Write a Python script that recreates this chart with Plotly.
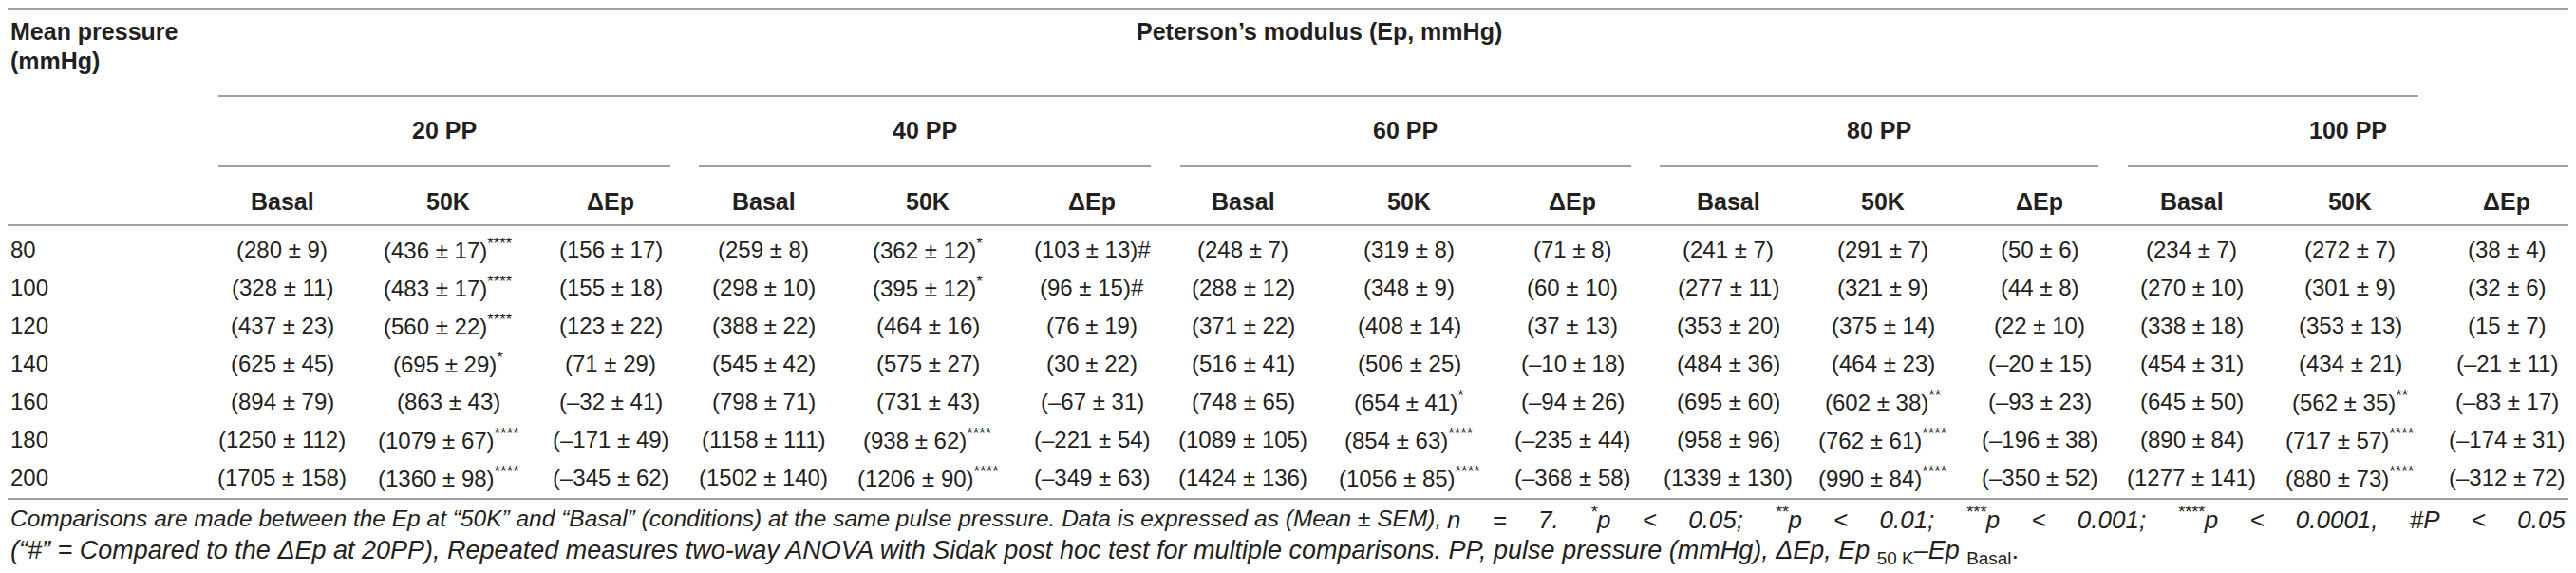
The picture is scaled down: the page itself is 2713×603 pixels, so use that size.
import plotly.graph_objects as go

# table data (Peterson's modulus, mean ± SEM)
mean_pressure = [80, 100, 120, 140, 160, 180, 200]
pp_groups = ["20 PP", "40 PP", "60 PP", "80 PP", "100 PP"]
sub_cols = ["Basal", "50K", "ΔEp"]

basal_mean = [
    [280, 328, 437, 625, 894, 1250, 1705],
    [259, 298, 388, 545, 798, 1158, 1502],
    [248, 288, 371, 516, 748, 1089, 1424],
    [241, 277, 353, 484, 695, 958, 1339],
    [234, 270, 338, 454, 645, 890, 1277],
]
basal_sem = [
    [9, 11, 23, 45, 79, 112, 158],
    [8, 10, 22, 42, 71, 111, 140],
    [7, 12, 22, 41, 65, 105, 136],
    [7, 11, 20, 36, 60, 96, 130],
    [7, 10, 18, 31, 50, 84, 141],
]
k50_mean = [
    [436, 483, 560, 695, 863, 1079, 1360],
    [362, 395, 464, 575, 731, 938, 1206],
    [319, 348, 408, 506, 654, 854, 1056],
    [291, 321, 375, 464, 602, 762, 990],
    [272, 301, 353, 434, 562, 717, 880],
]
k50_sem = [
    [17, 17, 22, 29, 43, 67, 98],
    [12, 12, 16, 27, 43, 62, 90],
    [8, 9, 14, 25, 41, 63, 85],
    [7, 9, 14, 23, 38, 61, 84],
    [7, 9, 13, 21, 35, 57, 73],
]
k50_sig = [
    ["****", "****", "****", "*", "", "****", "****"],
    ["*", "*", "", "", "", "****", "****"],
    ["", "", "", "", "*", "****", "****"],
    ["", "", "", "", "**", "****", "****"],
    ["", "", "", "", "**", "****", "****"],
]
delta_mean = [
    [156, 155, 123, 71, -32, -171, -345],
    [103, 96, 76, 30, -67, -221, -349],
    [71, 60, 37, -10, -94, -235, -368],
    [50, 44, 22, -20, -93, -196, -350],
    [38, 32, 15, -21, -83, -174, -312],
]
delta_sem = [
    [17, 18, 22, 29, 41, 49, 62],
    [13, 15, 19, 22, 31, 54, 63],
    [8, 10, 13, 18, 26, 44, 58],
    [6, 8, 10, 15, 23, 38, 52],
    [4, 6, 7, 11, 17, 31, 72],
]
delta_mark = [
    ["", "", "", "", "", "", ""],
    ["#", "#", "", "", "", "", ""],
    ["", "", "", "", "", "", ""],
    ["", "", "", "", "", "", ""],
    ["", "", "", "", "", "", ""],
]

footnote_1a = ("Comparisons are made between the Ep at “50K” and “Basal” (conditions) at the same pulse pressure. "
               "Data is expressed as (Mean ± SEM),")
footnote_1b = "\u2002\u2002 ".join(["n", "=", "7.", "<sup>*</sup>p", "&lt;", "0.05;", "<sup>**</sup>p", "&lt;", "0.01;",
                                    "<sup>***</sup>p", "&lt;", "0.001;", "<sup>****</sup>p", "&lt;", "0.0001,",
                                    "#P", "&lt;", "0.05"])
footnote_2 = ("(“#” = Compared to the ΔEp at 20PP), Repeated measures two-way ANOVA with Sidak post hoc test "
              "for multiple comparisons. PP, pulse pressure (mmHg), ΔEp, Ep </i><sub>50 K</sub><i>–Ep </i><sub>Basal</sub>.")

# layout, in page pixels (the page body has an 8px margin)
W, H, OFF = 2713, 603, 8
LEFT, RIGHT = 9, 2704
col_x = [297, 472, 643, 804, 977, 1150, 1309, 1484, 1656, 1820, 1983, 2148, 2308, 2475, 2640]
group_x = [468, 974, 1480, 1979, 2473]
group_lines = [(230, 706), (736, 1212), (1243, 1718), (1748, 2210), (2241, 2705)]
row_y0, row_step = 262, 40

FONT = "Liberation Sans, Arial, sans-serif"
TXT = "#231f20"
LINE = "#808080"


def fmt(v):
    return ("–" + str(-v)) if v < 0 else str(v)


def cell(m, s):
    return "(" + fmt(m) + " ± " + str(s) + ")"


fig = go.Figure()
ann = []
shapes = []


def text(x, y, t, bold=False, anchor="center", size=24, italic=False):
    if bold:
        t = "<b>" + t + "</b>"
    if italic:
        t = "<i>" + t + "</i>"
    ann.append(dict(x=x, y=y, text=t, showarrow=False, xanchor=anchor, yanchor="middle",
                    font=dict(family=FONT, size=size, color=TXT)))


def hline(x0, x1, y):
    shapes.append(dict(type="line", x0=x0, x1=x1, y0=y, y1=y, line=dict(color=LINE, width=1.3)))


# rules
hline(OFF, W - OFF, 9)
hline(230, 2547, 101)
for a, b in group_lines:
    hline(a, b, 175)
hline(OFF, W - OFF, 237)
hline(OFF, W - OFF, 525)

# headers
text(LEFT, 33, "Mean pressure", bold=True, anchor="left", size=25)
text(LEFT, 64, "(mmHg)", bold=True, anchor="left", size=25)
text(1389, 33, "Peterson’s modulus (Ep, mmHg)", bold=True, size=25)
for g, name in enumerate(pp_groups):
    text(group_x[g], 137, name, bold=True, size=25)
    for k, sc in enumerate(sub_cols):
        text(col_x[3 * g + k], 212, sc, bold=True, size=25)

# body
for i, mp in enumerate(mean_pressure):
    y = row_y0 + i * row_step
    text(LEFT, y, str(mp), anchor="left")
    for g in range(len(pp_groups)):
        text(col_x[3 * g], y, cell(basal_mean[g][i], basal_sem[g][i]))
        sig = k50_sig[g][i]
        t = cell(k50_mean[g][i], k50_sem[g][i]) + ("<sup>" + sig + "</sup>" if sig else "")
        text(col_x[3 * g + 1], y, t)
        text(col_x[3 * g + 2], y, cell(delta_mean[g][i], delta_sem[g][i]) + delta_mark[g][i])

# footnote
text(LEFT, 545, footnote_1a, anchor="left", italic=True, size=24.5)
text(RIGHT, 545, footnote_1b, anchor="right", italic=True, size=26)
text(LEFT, 581, footnote_2, anchor="left", italic=True, size=27)

fig.update_layout(
    width=W - 2 * OFF, height=H - 2 * OFF,
    margin=dict(l=0, r=0, t=0, b=0),
    paper_bgcolor="white", plot_bgcolor="white",
    xaxis=dict(range=[OFF, W - OFF], visible=False, fixedrange=True),
    yaxis=dict(range=[H - OFF, OFF], visible=False, fixedrange=True),
    annotations=ann, shapes=shapes,
    showlegend=False,
)
fig.write_html("out.html", config={"displayModeBar": False})
